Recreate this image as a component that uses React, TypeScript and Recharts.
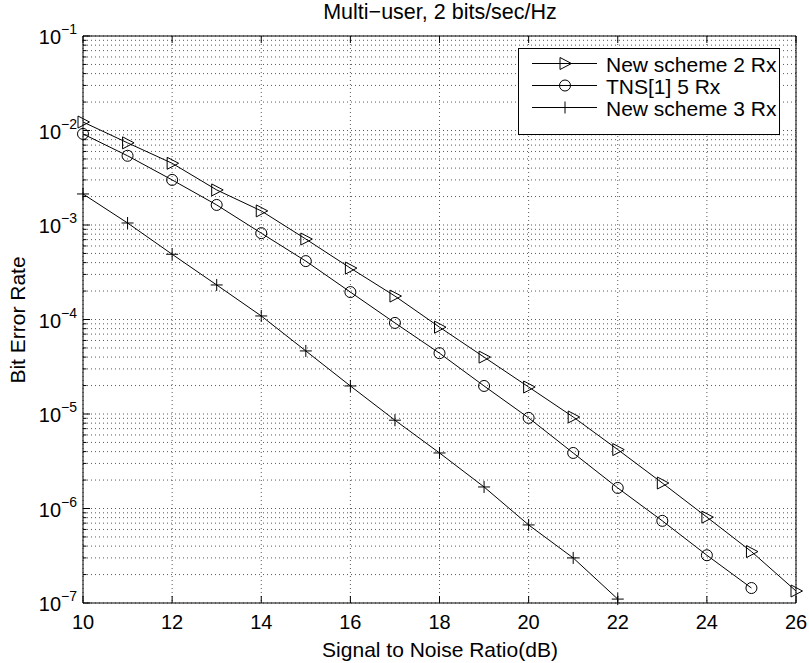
import React from 'react';
import { CartesianGrid, Line, LineChart, XAxis, YAxis } from 'recharts';

// SNR in dB
const snr = [10, 11, 12, 13, 14, 15, 16, 17, 18, 19, 20, 21, 22, 23, 24, 25, 26];

const newScheme2Rx = [
  1.23e-2, 7.4e-3, 4.5e-3, 2.35e-3, 1.41e-3, 7.1e-4, 3.5e-4, 1.77e-4, 8.3e-5, 4.0e-5, 1.93e-5,
  9.3e-6, 4.2e-6, 1.86e-6, 8.1e-7, 3.5e-7, 1.34e-7,
];
const tns5Rx = [
  9.2e-3, 5.4e-3, 3.0e-3, 1.63e-3, 8.2e-4, 4.15e-4, 1.95e-4, 9.2e-5, 4.4e-5, 1.98e-5, 9.1e-6,
  3.87e-6, 1.65e-6, 7.4e-7, 3.2e-7, 1.44e-7,
];
const newScheme3Rx = [
  2.13e-3, 1.05e-3, 4.9e-4, 2.32e-4, 1.09e-4, 4.65e-5, 1.98e-5, 8.6e-6, 3.87e-6, 1.69e-6, 6.7e-7,
  3.0e-7, 1.1e-7,
];

const seriesNames = ['New scheme 2 Rx', 'TNS[1] 5 Rx', 'New scheme 3 Rx'];
const seriesKeys = ['ns2', 'tns5', 'ns3'];

const xTicks = [10, 12, 14, 16, 18, 20, 22, 24, 26];
const decadeExponents = [-7, -6, -5, -4, -3, -2, -1];
const minorMultipliers = [2, 3, 4, 5, 6, 7, 8, 9];

const yTicks: number[] = [];
decadeExponents.forEach((e) => {
  yTicks.push(Math.pow(10, e));
  if (e < -1) minorMultipliers.forEach((m) => yTicks.push(m * Math.pow(10, e)));
});

const data = snr.map((x, i) => ({
  snr: x,
  ns2: newScheme2Rx[i],
  tns5: tns5Rx[i],
  ns3: newScheme3Rx[i],
}));

const FONT = '"Liberation Sans", Arial, Helvetica, sans-serif';

const isDecade = (v: number) => {
  const l = Math.log10(v);
  return Math.abs(l - Math.round(l)) < 1e-6;
};

function Marker({ kind, cx, cy }: { kind: number; cx: number; cy: number }) {
  if (kind === 0) {
    return (
      <polygon
        points={`${cx - 5},${cy - 6} ${cx - 5},${cy + 6} ${cx + 6.5},${cy}`}
        fill="none"
        stroke="#000"
        strokeWidth={1}
      />
    );
  }
  if (kind === 1) {
    return <circle cx={cx} cy={cy} r={5.5} fill="none" stroke="#000" strokeWidth={1} />;
  }
  return (
    <path
      d={`M${cx - 6},${cy}H${cx + 6}M${cx},${cy - 6}V${cy + 6}`}
      stroke="#000"
      strokeWidth={1}
      fill="none"
    />
  );
}

const makeDot = (kind: number) => (props: any) => {
  const { cx, cy, index, value } = props;
  if (value == null || cx == null || cy == null) return <g key={`e-${kind}-${index}`} />;
  return (
    <g key={`d-${kind}-${index}`}>
      <Marker kind={kind} cx={cx} cy={cy} />
    </g>
  );
};

const LeftTick = (props: any) => {
  const { x, y, payload } = props;
  const major = isDecade(payload.value);
  const exp = Math.round(Math.log10(payload.value));
  return (
    <g>
      <line x1={x} x2={x + (major ? 7 : 3.5)} y1={y} y2={y} stroke="#000" />
      {major && (
        <text x={x - 6} y={y + 8} textAnchor="end" fontSize={20} fontFamily={FONT} fill="#000">
          10
          <tspan dy={-10} fontSize={14}>
            {'\u2212' + Math.abs(exp)}
          </tspan>
        </text>
      )}
    </g>
  );
};

const RightTick = (props: any) => {
  const { x, y, payload } = props;
  const major = isDecade(payload.value);
  return <line x1={x} x2={x - (major ? 7 : 3.5)} y1={y} y2={y} stroke="#000" />;
};

const BottomTick = (props: any) => {
  const { x, y, payload } = props;
  return (
    <g>
      <line x1={x} x2={x} y1={y} y2={y - 7} stroke="#000" />
      <text x={x} y={y + 26} textAnchor="middle" fontSize={20} fontFamily={FONT} fill="#000">
        {payload.value}
      </text>
    </g>
  );
};

const TopTick = (props: any) => {
  const { x, y } = props;
  return <line x1={x} x2={x} y1={y} y2={y + 7} stroke="#000" />;
};

export default function App() {
  const W = 809;
  const H = 663;
  const legendRows = [63.5, 85.5, 107.5];

  return (
    <div style={{ position: 'absolute', left: 0, top: 0, width: W, height: H, background: '#fff' }}>
      <LineChart width={W} height={H} data={data} margin={{ top: 0, right: 0, bottom: 0, left: 0 }}>
        <CartesianGrid stroke="#222" strokeOpacity={0.75} strokeDasharray="1 3" strokeWidth={1} />
        <XAxis
          dataKey="snr"
          type="number"
          domain={[10, 26]}
          ticks={xTicks}
          interval={0}
          height={60}
          tickSize={0}
          tickMargin={0}
          tick={<BottomTick />}
          axisLine={{ stroke: '#000' }}
          tickLine={false}
        />
        <XAxis
          xAxisId="top"
          orientation="top"
          dataKey="snr"
          type="number"
          domain={[10, 26]}
          ticks={xTicks}
          interval={0}
          height={36}
          tickSize={0}
          tickMargin={0}
          tick={<TopTick />}
          axisLine={{ stroke: '#000' }}
          tickLine={false}
        />
        <YAxis
          type="number"
          scale="log"
          domain={[1e-7, 1e-1]}
          ticks={yTicks}
          interval={0}
          width={83}
          tickSize={0}
          tickMargin={0}
          tick={<LeftTick />}
          axisLine={{ stroke: '#000' }}
          tickLine={false}
        />
        <YAxis
          yAxisId="right"
          orientation="right"
          type="number"
          scale="log"
          domain={[1e-7, 1e-1]}
          ticks={yTicks}
          interval={0}
          width={13}
          tickSize={0}
          tickMargin={0}
          tick={<RightTick />}
          axisLine={{ stroke: '#000' }}
          tickLine={false}
        />
        {seriesKeys.map((k, i) => (
          <Line
            key={k}
            dataKey={k}
            name={seriesNames[i]}
            type="linear"
            stroke="#000"
            strokeWidth={1}
            dot={makeDot(i)}
            activeDot={false}
            isAnimationActive={false}
          />
        ))}
      </LineChart>

      <svg
        width={W}
        height={H}
        style={{ position: 'absolute', left: 0, top: 0, pointerEvents: 'none' }}
        fontFamily={FONT}
      >
        <text x={440} y={19} textAnchor="middle" fontSize={21.5}>
          Multi{'\u2212'}user, 2 bits/sec/Hz
        </text>
        <text x={440} y={657} textAnchor="middle" fontSize={21}>
          Signal to Noise Ratio(dB)
        </text>
        <text transform="translate(25,320) rotate(-90)" textAnchor="middle" fontSize={21}>
          Bit Error Rate
        </text>

        <rect x={518.5} y={48.5} width={261} height={86} fill="#fff" stroke="#000" strokeWidth={1} />
        {seriesNames.map((name, i) => (
          <g key={name}>
            <line x1={532} x2={597} y1={legendRows[i]} y2={legendRows[i]} stroke="#000" />
            <Marker kind={i} cx={565} cy={legendRows[i]} />
            <text x={606} y={legendRows[i] + 8} fontSize={21}>
              {name}
            </text>
          </g>
        ))}
      </svg>
    </div>
  );
}
